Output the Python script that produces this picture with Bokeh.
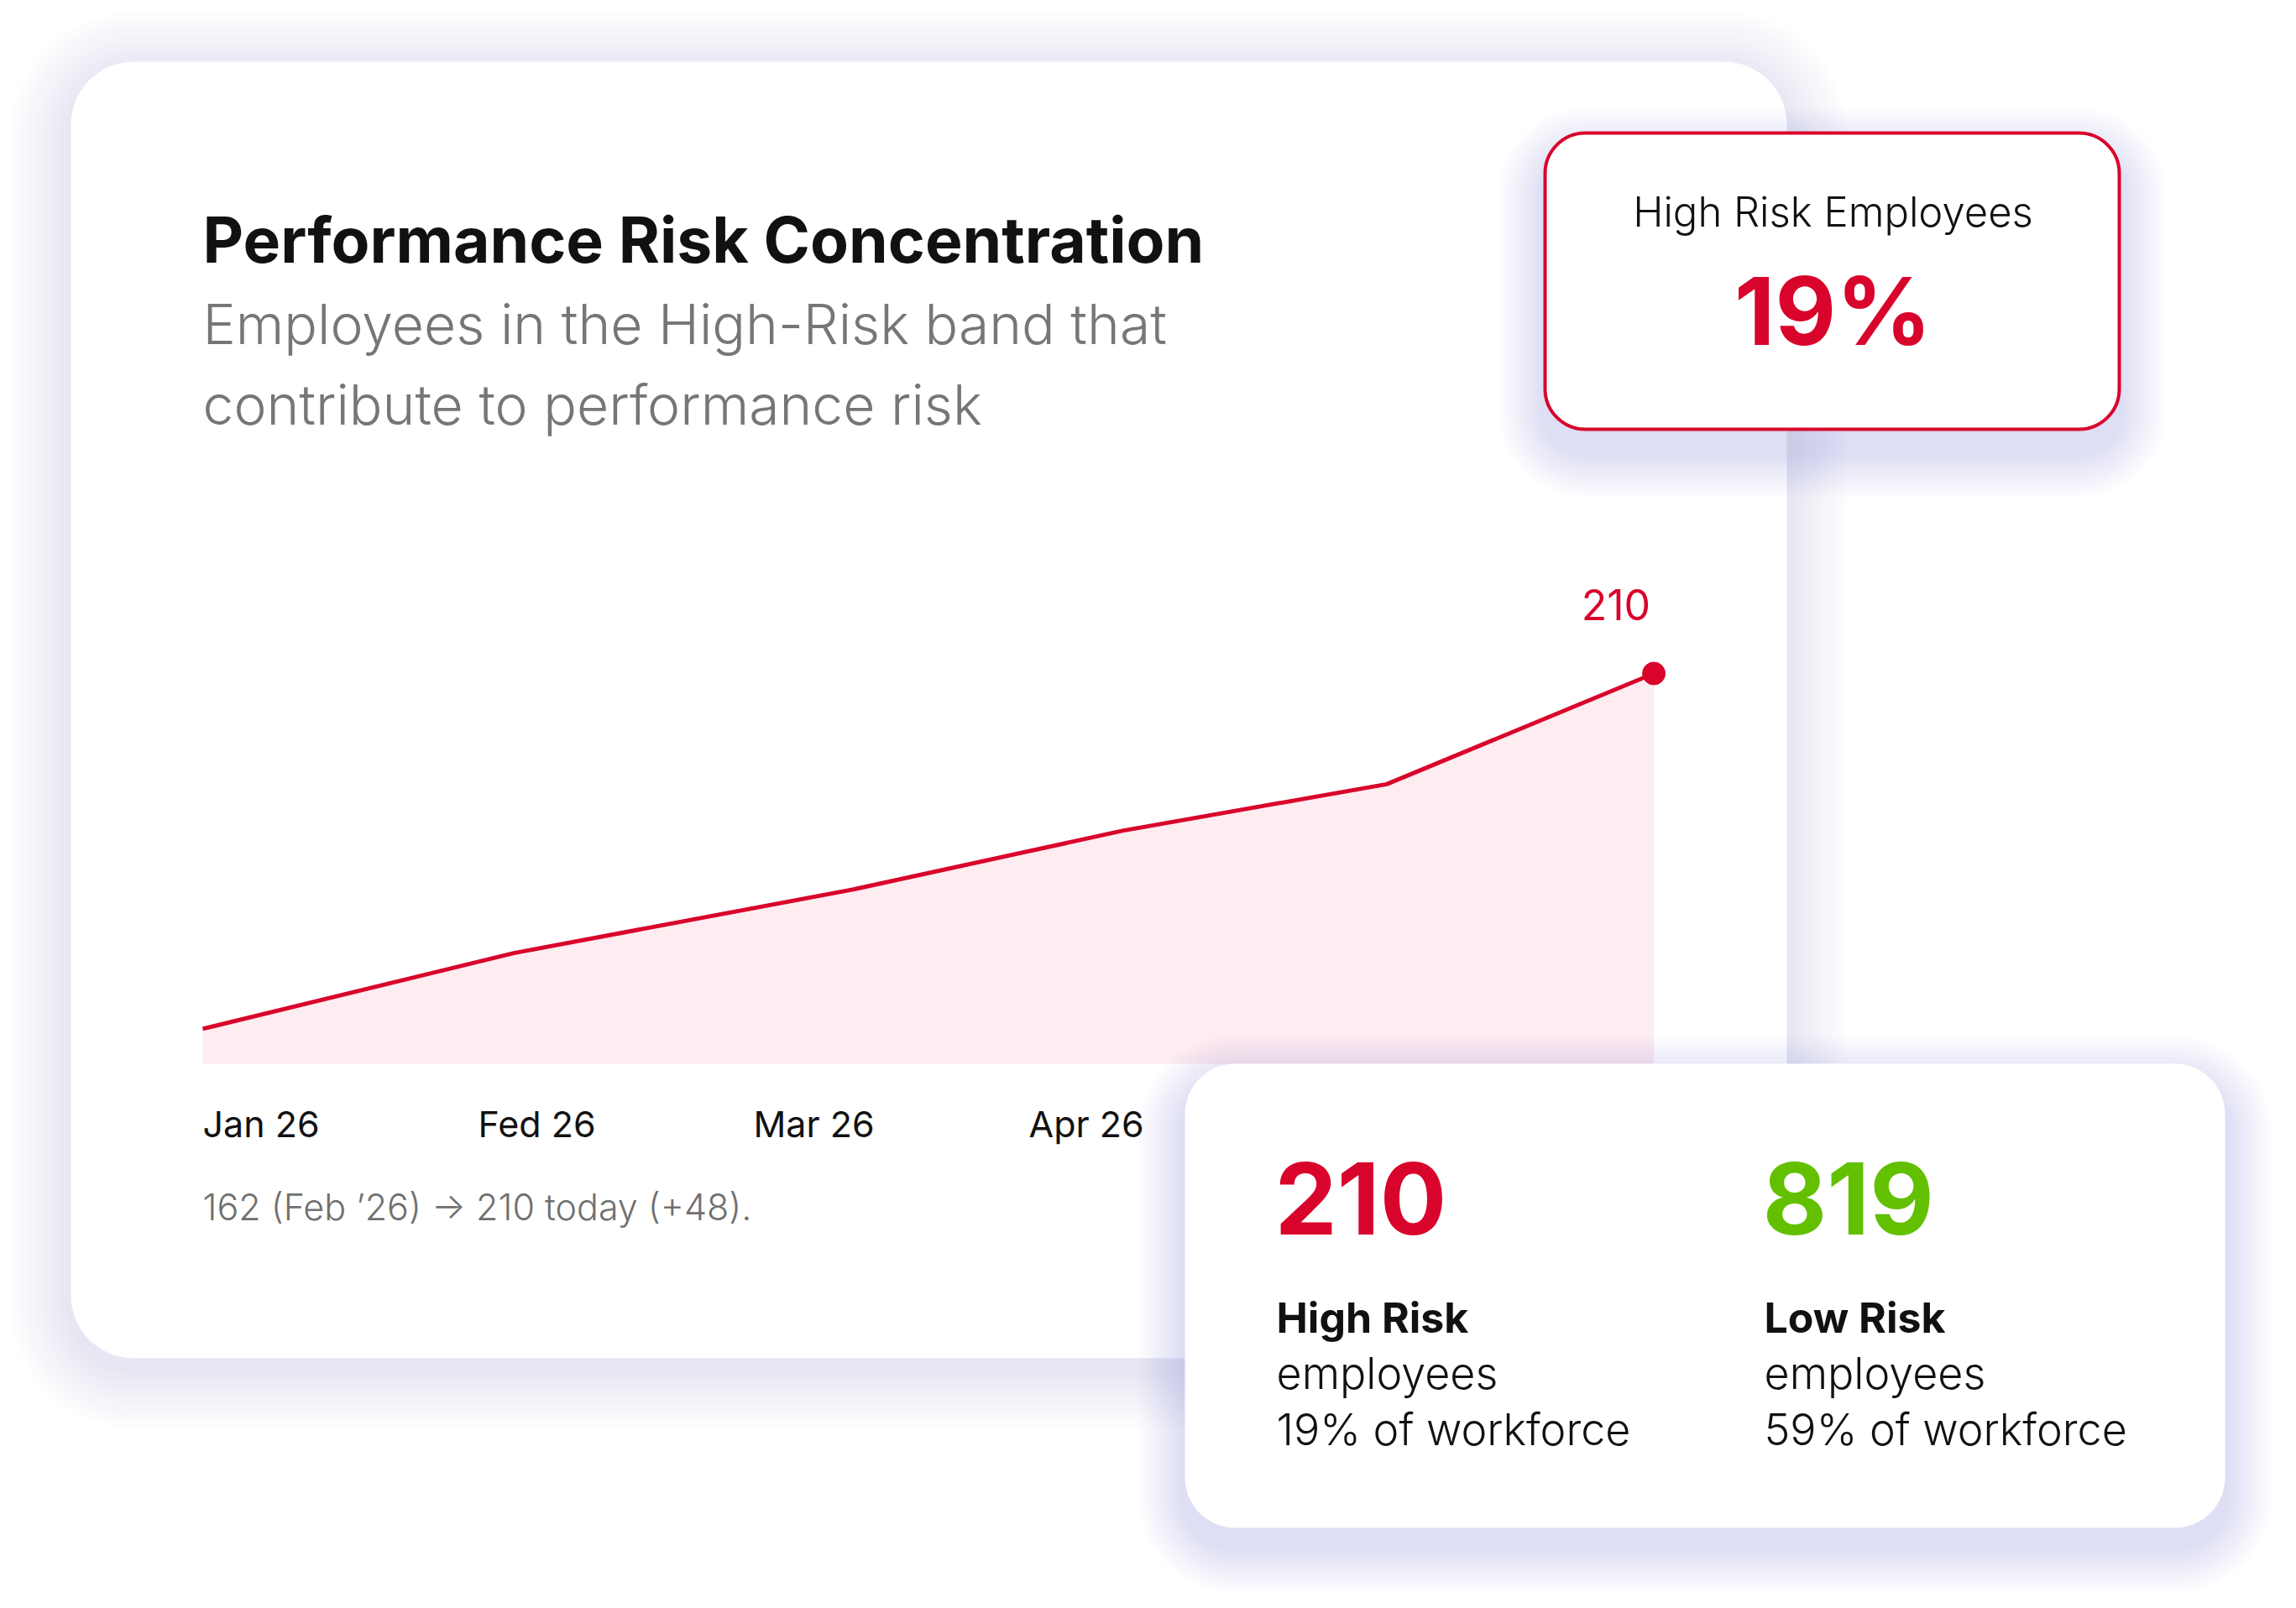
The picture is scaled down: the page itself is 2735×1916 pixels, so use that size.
from bokeh.core.properties import value
from bokeh.embed import file_html
from bokeh.models import BoxAnnotation, Label, Range1d
from bokeh.plotting import figure
from bokeh.resources import INLINE

# data
months = ["Jan 26", "Fed 26", "Mar 26", "Apr 26"]
month_pos = [0, 1, 2, 3]
point_pos = [0.0, 1.13, 2.37, 3.34, 4.30, 5.27]   # in months from Jan
high_risk = [149, 162, 173, 183, 191, 210]
chart_floor = 143

high_risk_count = 210
low_risk_count = 819
high_risk_share = "19%"
low_risk_share = "59%"

RED = "#d9042b"
GREEN = "#63c000"
INK = "#111111"
GREY = "#767676"
PINK = "#fdecf0"
SHADOW = "#8a8ac4"
FONT = "Inter"
LIGHT = "Inter Light"

W, H = 2735, 1916
FW, FH = W - 16, H - 16


def fy(py):
    # page pixel row -> plot y
    return FH - py


p = figure(
    width=FW, height=FH,
    x_range=Range1d(0, FW), y_range=Range1d(0, FH),
    x_axis_location=None, y_axis_location=None,
    toolbar_location=None, output_backend="svg",
    min_border=0, outline_line_color=None,
    background_fill_color="white", border_fill_color="white",
)
p.grid.visible = False

# chart scales: month 0 sits at px 241, one month = 328 px,
# floor value at py 1267 and the top value at py 802
x0_px, month_px = 241, 328
k = (1267 - 802) / (max(high_risk) - chart_floor)
xs = -x0_px / month_px
p.extra_x_ranges = {"chart": Range1d(xs, xs + FW / month_px)}
p.extra_y_ranges = {"chart": Range1d(chart_floor - (FH - 1267) / k,
                                     chart_floor + 1267 / k)}


def shadow(l, t, r, b, rad, layers, step, alpha, dy, level="annotation"):
    for i in range(layers, 0, -1):
        e = i * step
        p.add_layout(BoxAnnotation(
            left=l - e, right=r + e, top=fy(t - e + dy), bottom=fy(b + e + dy),
            border_radius=rad + e, fill_color=SHADOW, fill_alpha=alpha,
            line_color=None, level=level))


def card(l, t, r, b, rad, level="annotation", **kw):
    p.add_layout(BoxAnnotation(
        left=l, right=r, top=fy(t), bottom=fy(b), border_radius=rad,
        fill_color="white", fill_alpha=1.0, line_alpha=1.0, level=level, **kw))


def label(x, py, text, size, color=INK, bold=False, align="left", font=FONT):
    p.add_layout(Label(x=x, y=fy(py), text=text, text_font=font,
                       text_font_style="bold" if bold else "normal",
                       text_font_size=f"{size}px", text_color=color,
                       text_align=align, text_baseline="middle"))


# main card
shadow(84, 73, 2128, 1618, 75, 12, 6, 0.015, 12, level="underlay")
card(84, 73, 2128, 1618, 75, level="underlay", line_color=None)

label(241, 285, "Performance Risk Concentration", 75, bold=True)
label(241, 385, "Employees in the High-Risk band that", 66, GREY, font=LIGHT)
label(241, 481, "contribute to performance risk", 66, GREY, font=LIGHT)

# area + line
p.varea(x=point_pos, y1=[chart_floor] * len(point_pos), y2=high_risk,
        fill_color=PINK, x_range_name="chart", y_range_name="chart")
p.line(point_pos, high_risk, line_color=RED, line_width=5,
       x_range_name="chart", y_range_name="chart")
p.scatter([point_pos[-1]], [high_risk[-1]], size=27, color=RED,
          x_range_name="chart", y_range_name="chart")
p.text([point_pos[-1]], [high_risk[-1]], text=[str(high_risk[-1])],
       text_font=value(FONT), text_font_size="50px", text_color=RED,
       text_align="right", text_baseline="middle", x_offset=-4, y_offset=-82,
       x_range_name="chart", y_range_name="chart")

# month labels
p.text(month_pos, [chart_floor] * len(month_pos), text=months,
       text_font=value(FONT), text_font_size="43px", text_color=INK,
       text_align="left", text_baseline="middle", y_offset=71,
       x_range_name="chart", y_range_name="chart")

label(241, 1437, "162 (Feb \u201926) \u2192 210 today (+48).", 43, "#707070",
      font=LIGHT)

# top right card
shadow(1840, 158, 2524, 511, 48, 11, 5, 0.025, 26)
card(1840, 158, 2524, 511, 48, line_color=RED, line_width=4)
label(2183, 252, "High Risk Employees", 49, align="center", font=LIGHT)
label(2183, 369, high_risk_share, 112, RED, bold=True, align="center")

# bottom right card
shadow(1411, 1267, 2650, 1820, 60, 11, 5, 0.023, 22)
card(1411, 1267, 2650, 1820, 60, line_color=None)

cols = [(1518, str(high_risk_count), RED, "High Risk", high_risk_share),
        (2099, str(low_risk_count), GREEN, "Low Risk", low_risk_share)]
for x, big, col, name, share in cols:
    label(x, 1427, big, 118, col, bold=True)
    label(x + 2, 1569, name, 50, bold=True)
    label(x + 2, 1636, "employees", 52, font=LIGHT)
    label(x + 2, 1703, share + " of workforce", 52, font=LIGHT)

open("out.html", "w").write(file_html(p, INLINE))
